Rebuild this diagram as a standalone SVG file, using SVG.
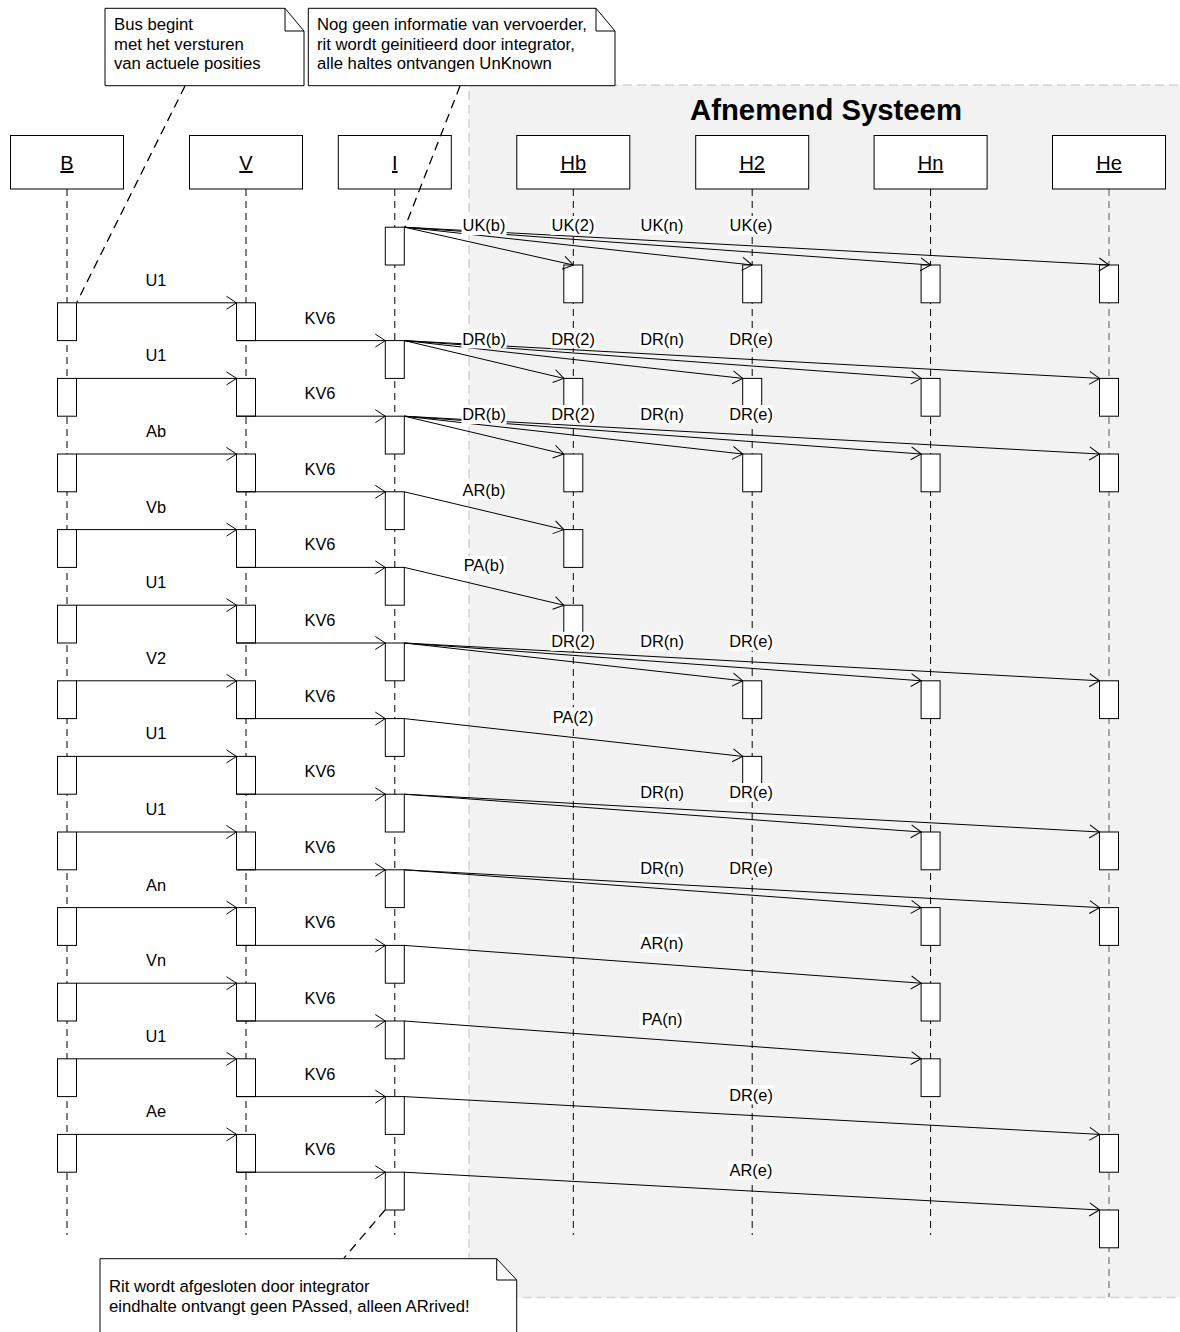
<svg xmlns="http://www.w3.org/2000/svg" width="1180" height="1332" viewBox="0 0 1180 1332">
<style>
text{font-family:"Liberation Sans",Arial,sans-serif;fill:#000}
.t{font-size:16.7px}
.m{font-size:16.4px;text-anchor:middle}
.h{font-size:20px;text-anchor:middle;text-decoration:underline}
.title{font-size:29.3px;font-weight:bold;text-anchor:middle}
.box{fill:#fff;stroke:#000;stroke-width:1}
.act{fill:#fff;stroke:#000;stroke-width:1}
.life{stroke:#000;stroke-width:1;stroke-dasharray:7,5;fill:none}
.msg{stroke:#000;stroke-width:1;fill:none;marker-end:url(#ah)}
.note{fill:#fff;stroke:#000;stroke-width:1}
.nl{stroke:#000;stroke-width:1.3;stroke-dasharray:9,6;fill:none}
.lbg{fill:#fff}
</style>
<defs>
<marker id="ah" markerUnits="userSpaceOnUse" markerWidth="12" markerHeight="15" viewBox="0 0 12 15" refX="11" refY="7.5" orient="auto">
<path d="M1,1 L11,7.5 L1,14" fill="none" stroke="#000" stroke-width="1"/>
</marker>
</defs>

<g id="region">
<rect x="469" y="85" width="720" height="1212.5" fill="#f2f2f2" stroke="#d4d4d4" stroke-width="1.5" stroke-dasharray="9,5"/>
<text class="title" x="826" y="120">Afnemend Systeem</text>
</g>

<g id="lifelines">
<line class="life" x1="67" y1="189" x2="67" y2="1235"/>
<line class="life" x1="246" y1="189" x2="246" y2="1235"/>
<line class="life" x1="394.8" y1="189" x2="394.8" y2="1235"/>
<line class="life" x1="573.3" y1="189" x2="573.3" y2="1235"/>
<line class="life" x1="752.2" y1="189" x2="752.2" y2="1235"/>
<line class="life" x1="930.6" y1="189" x2="930.6" y2="1235"/>
<line class="life" x1="1109" y1="189" x2="1109" y2="1297" style="stroke:#7a7a7a;stroke-width:1.3"/>
</g>

<g id="node-B"><rect class="box" x="10.5" y="135.5" width="113" height="53.5"/><text class="h" x="67" y="170">B</text></g>
<g id="node-V"><rect class="box" x="189.5" y="135.5" width="113" height="53.5"/><text class="h" x="246" y="170">V</text></g>
<g id="node-I"><rect class="box" x="338.3" y="135.5" width="113" height="53.5"/><text class="h" x="394.8" y="170">I</text></g>
<g id="node-Hb"><rect class="box" x="516.8" y="135.5" width="113" height="53.5"/><text class="h" x="573.3" y="170">Hb</text></g>
<g id="node-H2"><rect class="box" x="695.7" y="135.5" width="113" height="53.5"/><text class="h" x="752.2" y="170">H2</text></g>
<g id="node-Hn"><rect class="box" x="874.1" y="135.5" width="113" height="53.5"/><text class="h" x="930.6" y="170">Hn</text></g>
<g id="node-He"><rect class="box" x="1052.5" y="135.5" width="113" height="53.5"/><text class="h" x="1109" y="170">He</text></g>

<g id="activations">
<rect class="act" x="57.5" y="302.8" width="19" height="37.8"/>
<rect class="act" x="57.5" y="378.4" width="19" height="37.8"/>
<rect class="act" x="57.5" y="454.0" width="19" height="37.8"/>
<rect class="act" x="57.5" y="529.6" width="19" height="37.8"/>
<rect class="act" x="57.5" y="605.2" width="19" height="37.8"/>
<rect class="act" x="57.5" y="680.8" width="19" height="37.8"/>
<rect class="act" x="57.5" y="756.4" width="19" height="37.8"/>
<rect class="act" x="57.5" y="832.0" width="19" height="37.8"/>
<rect class="act" x="57.5" y="907.6" width="19" height="37.8"/>
<rect class="act" x="57.5" y="983.2" width="19" height="37.8"/>
<rect class="act" x="57.5" y="1058.8" width="19" height="37.8"/>
<rect class="act" x="57.5" y="1134.4" width="19" height="37.8"/>
<rect class="act" x="236.5" y="302.8" width="19" height="37.8"/>
<rect class="act" x="236.5" y="378.4" width="19" height="37.8"/>
<rect class="act" x="236.5" y="454.0" width="19" height="37.8"/>
<rect class="act" x="236.5" y="529.6" width="19" height="37.8"/>
<rect class="act" x="236.5" y="605.2" width="19" height="37.8"/>
<rect class="act" x="236.5" y="680.8" width="19" height="37.8"/>
<rect class="act" x="236.5" y="756.4" width="19" height="37.8"/>
<rect class="act" x="236.5" y="832.0" width="19" height="37.8"/>
<rect class="act" x="236.5" y="907.6" width="19" height="37.8"/>
<rect class="act" x="236.5" y="983.2" width="19" height="37.8"/>
<rect class="act" x="236.5" y="1058.8" width="19" height="37.8"/>
<rect class="act" x="236.5" y="1134.4" width="19" height="37.8"/>
<rect class="act" x="385.3" y="227.2" width="19" height="37.8"/>
<rect class="act" x="385.3" y="340.6" width="19" height="37.8"/>
<rect class="act" x="385.3" y="416.2" width="19" height="37.8"/>
<rect class="act" x="385.3" y="491.8" width="19" height="37.8"/>
<rect class="act" x="385.3" y="567.4" width="19" height="37.8"/>
<rect class="act" x="385.3" y="643.0" width="19" height="37.8"/>
<rect class="act" x="385.3" y="718.6" width="19" height="37.8"/>
<rect class="act" x="385.3" y="794.2" width="19" height="37.8"/>
<rect class="act" x="385.3" y="869.8" width="19" height="37.8"/>
<rect class="act" x="385.3" y="945.4" width="19" height="37.8"/>
<rect class="act" x="385.3" y="1021.0" width="19" height="37.8"/>
<rect class="act" x="385.3" y="1096.6" width="19" height="37.8"/>
<rect class="act" x="385.3" y="1172.2" width="19" height="37.8"/>
<rect class="act" x="563.8" y="265.0" width="19" height="37.8"/>
<rect class="act" x="563.8" y="378.4" width="19" height="37.8"/>
<rect class="act" x="563.8" y="454.0" width="19" height="37.8"/>
<rect class="act" x="563.8" y="529.6" width="19" height="37.8"/>
<rect class="act" x="563.8" y="605.2" width="19" height="37.8"/>
<rect class="act" x="742.7" y="265.0" width="19" height="37.8"/>
<rect class="act" x="742.7" y="378.4" width="19" height="37.8"/>
<rect class="act" x="742.7" y="454.0" width="19" height="37.8"/>
<rect class="act" x="742.7" y="680.8" width="19" height="37.8"/>
<rect class="act" x="742.7" y="756.4" width="19" height="37.8"/>
<rect class="act" x="921.1" y="265.0" width="19" height="37.8"/>
<rect class="act" x="921.1" y="378.4" width="19" height="37.8"/>
<rect class="act" x="921.1" y="454.0" width="19" height="37.8"/>
<rect class="act" x="921.1" y="680.8" width="19" height="37.8"/>
<rect class="act" x="921.1" y="832.0" width="19" height="37.8"/>
<rect class="act" x="921.1" y="907.6" width="19" height="37.8"/>
<rect class="act" x="921.1" y="983.2" width="19" height="37.8"/>
<rect class="act" x="921.1" y="1058.8" width="19" height="37.8"/>
<rect class="act" x="1099.5" y="265.0" width="19" height="37.8"/>
<rect class="act" x="1099.5" y="378.4" width="19" height="37.8"/>
<rect class="act" x="1099.5" y="454.0" width="19" height="37.8"/>
<rect class="act" x="1099.5" y="680.8" width="19" height="37.8"/>
<rect class="act" x="1099.5" y="832.0" width="19" height="37.8"/>
<rect class="act" x="1099.5" y="907.6" width="19" height="37.8"/>
<rect class="act" x="1099.5" y="1134.4" width="19" height="37.8"/>
<rect class="act" x="1099.5" y="1210.0" width="19" height="37.8"/>
</g>

<g id="connectors">
<line class="msg" x1="76.5" y1="302.8" x2="236.5" y2="302.8"/>
<line class="msg" x1="76.5" y1="378.4" x2="236.5" y2="378.4"/>
<line class="msg" x1="76.5" y1="454.0" x2="236.5" y2="454.0"/>
<line class="msg" x1="76.5" y1="529.6" x2="236.5" y2="529.6"/>
<line class="msg" x1="76.5" y1="605.2" x2="236.5" y2="605.2"/>
<line class="msg" x1="76.5" y1="680.8" x2="236.5" y2="680.8"/>
<line class="msg" x1="76.5" y1="756.4" x2="236.5" y2="756.4"/>
<line class="msg" x1="76.5" y1="832.0" x2="236.5" y2="832.0"/>
<line class="msg" x1="76.5" y1="907.6" x2="236.5" y2="907.6"/>
<line class="msg" x1="76.5" y1="983.2" x2="236.5" y2="983.2"/>
<line class="msg" x1="76.5" y1="1058.8" x2="236.5" y2="1058.8"/>
<line class="msg" x1="76.5" y1="1134.4" x2="236.5" y2="1134.4"/>
<line class="msg" x1="236.5" y1="340.6" x2="385.3" y2="340.6"/>
<line class="msg" x1="236.5" y1="416.2" x2="385.3" y2="416.2"/>
<line class="msg" x1="236.5" y1="491.8" x2="385.3" y2="491.8"/>
<line class="msg" x1="236.5" y1="567.4" x2="385.3" y2="567.4"/>
<line class="msg" x1="236.5" y1="643.0" x2="385.3" y2="643.0"/>
<line class="msg" x1="236.5" y1="718.6" x2="385.3" y2="718.6"/>
<line class="msg" x1="236.5" y1="794.2" x2="385.3" y2="794.2"/>
<line class="msg" x1="236.5" y1="869.8" x2="385.3" y2="869.8"/>
<line class="msg" x1="236.5" y1="945.4" x2="385.3" y2="945.4"/>
<line class="msg" x1="236.5" y1="1021.0" x2="385.3" y2="1021.0"/>
<line class="msg" x1="236.5" y1="1096.6" x2="385.3" y2="1096.6"/>
<line class="msg" x1="236.5" y1="1172.2" x2="385.3" y2="1172.2"/>
<line class="msg" x1="404.3" y1="227.2" x2="573.3" y2="265.0"/>
<line class="msg" x1="404.3" y1="227.2" x2="752.2" y2="265.0"/>
<line class="msg" x1="404.3" y1="227.2" x2="930.6" y2="265.0"/>
<line class="msg" x1="404.3" y1="227.2" x2="1109" y2="265.0"/>
<line class="msg" x1="404.3" y1="340.6" x2="563.8" y2="378.4"/>
<line class="msg" x1="404.3" y1="340.6" x2="742.7" y2="378.4"/>
<line class="msg" x1="404.3" y1="340.6" x2="921.1" y2="378.4"/>
<line class="msg" x1="404.3" y1="340.6" x2="1099.5" y2="378.4"/>
<line class="msg" x1="404.3" y1="416.2" x2="563.8" y2="454.0"/>
<line class="msg" x1="404.3" y1="416.2" x2="742.7" y2="454.0"/>
<line class="msg" x1="404.3" y1="416.2" x2="921.1" y2="454.0"/>
<line class="msg" x1="404.3" y1="416.2" x2="1099.5" y2="454.0"/>
<line class="msg" x1="404.3" y1="491.8" x2="563.8" y2="529.6"/>
<line class="msg" x1="404.3" y1="567.4" x2="563.8" y2="605.2"/>
<line class="msg" x1="404.3" y1="643.0" x2="742.7" y2="680.8"/>
<line class="msg" x1="404.3" y1="643.0" x2="921.1" y2="680.8"/>
<line class="msg" x1="404.3" y1="643.0" x2="1099.5" y2="680.8"/>
<line class="msg" x1="404.3" y1="718.6" x2="742.7" y2="756.4"/>
<line class="msg" x1="404.3" y1="794.2" x2="921.1" y2="832.0"/>
<line class="msg" x1="404.3" y1="794.2" x2="1099.5" y2="832.0"/>
<line class="msg" x1="404.3" y1="869.8" x2="921.1" y2="907.6"/>
<line class="msg" x1="404.3" y1="869.8" x2="1099.5" y2="907.6"/>
<line class="msg" x1="404.3" y1="945.4" x2="921.1" y2="983.2"/>
<line class="msg" x1="404.3" y1="1021.0" x2="921.1" y2="1058.8"/>
<line class="msg" x1="404.3" y1="1096.6" x2="1099.5" y2="1134.4"/>
<line class="msg" x1="404.3" y1="1172.2" x2="1099.5" y2="1210.0"/>
<line class="nl" x1="185" y1="86" x2="77" y2="302"/>
<line class="nl" x1="460" y1="86" x2="405" y2="227"/>
<line class="nl" x1="385" y1="1210" x2="344" y2="1258"/>
</g>

<g id="labels">
<text class="m" x="156" y="285.8">U1</text>
<text class="m" x="156" y="361.4">U1</text>
<text class="m" x="156" y="437.0">Ab</text>
<text class="m" x="156" y="512.6">Vb</text>
<text class="m" x="156" y="588.2">U1</text>
<text class="m" x="156" y="663.8">V2</text>
<text class="m" x="156" y="739.4">U1</text>
<text class="m" x="156" y="815.0">U1</text>
<text class="m" x="156" y="890.6">An</text>
<text class="m" x="156" y="966.2">Vn</text>
<text class="m" x="156" y="1041.8">U1</text>
<text class="m" x="156" y="1117.4">Ae</text>
<text class="m" x="320" y="323.6">KV6</text>
<text class="m" x="320" y="399.2">KV6</text>
<text class="m" x="320" y="474.8">KV6</text>
<text class="m" x="320" y="550.4">KV6</text>
<text class="m" x="320" y="626.0">KV6</text>
<text class="m" x="320" y="701.6">KV6</text>
<text class="m" x="320" y="777.2">KV6</text>
<text class="m" x="320" y="852.8">KV6</text>
<text class="m" x="320" y="928.4">KV6</text>
<text class="m" x="320" y="1004.0">KV6</text>
<text class="m" x="320" y="1079.6">KV6</text>
<text class="m" x="320" y="1155.2">KV6</text>
<rect class="lbg" x="461.5" y="216" width="45" height="19"/><text class="m" x="484" y="231.2">UK(b)</text>
<rect class="lbg" x="550.5" y="216" width="45" height="19"/><text class="m" x="573" y="231.2">UK(2)</text>
<rect class="lbg" x="639.5" y="216" width="45" height="19"/><text class="m" x="662" y="231.2">UK(n)</text>
<rect class="lbg" x="728.5" y="216" width="45" height="19"/><text class="m" x="751" y="231.2">UK(e)</text>
<rect class="lbg" x="461.5" y="329.4" width="45" height="19"/><text class="m" x="484" y="344.6">DR(b)</text>
<rect class="lbg" x="550.5" y="329.4" width="45" height="19"/><text class="m" x="573" y="344.6">DR(2)</text>
<rect class="lbg" x="639.5" y="329.4" width="45" height="19"/><text class="m" x="662" y="344.6">DR(n)</text>
<rect class="lbg" x="728.5" y="329.4" width="45" height="19"/><text class="m" x="751" y="344.6">DR(e)</text>
<rect class="lbg" x="461.5" y="405" width="45" height="19"/><text class="m" x="484" y="420.2">DR(b)</text>
<rect class="lbg" x="550.5" y="405" width="45" height="19"/><text class="m" x="573" y="420.2">DR(2)</text>
<rect class="lbg" x="639.5" y="405" width="45" height="19"/><text class="m" x="662" y="420.2">DR(n)</text>
<rect class="lbg" x="728.5" y="405" width="45" height="19"/><text class="m" x="751" y="420.2">DR(e)</text>
<rect class="lbg" x="461.5" y="480.6" width="45" height="19"/><text class="m" x="484" y="495.8">AR(b)</text>
<rect class="lbg" x="461.5" y="556.2" width="45" height="19"/><text class="m" x="484" y="571.4">PA(b)</text>
<rect class="lbg" x="550.5" y="631.8" width="45" height="19"/><text class="m" x="573" y="647.0">DR(2)</text>
<rect class="lbg" x="639.5" y="631.8" width="45" height="19"/><text class="m" x="662" y="647.0">DR(n)</text>
<rect class="lbg" x="728.5" y="631.8" width="45" height="19"/><text class="m" x="751" y="647.0">DR(e)</text>
<rect class="lbg" x="550.5" y="707.4" width="45" height="19"/><text class="m" x="573" y="722.6">PA(2)</text>
<rect class="lbg" x="639.5" y="783" width="45" height="19"/><text class="m" x="662" y="798.2">DR(n)</text>
<rect class="lbg" x="728.5" y="783" width="45" height="19"/><text class="m" x="751" y="798.2">DR(e)</text>
<rect class="lbg" x="639.5" y="858.6" width="45" height="19"/><text class="m" x="662" y="873.8">DR(n)</text>
<rect class="lbg" x="728.5" y="858.6" width="45" height="19"/><text class="m" x="751" y="873.8">DR(e)</text>
<rect class="lbg" x="639.5" y="934.2" width="45" height="19"/><text class="m" x="662" y="949.4">AR(n)</text>
<rect class="lbg" x="639.5" y="1009.8" width="45" height="19"/><text class="m" x="662" y="1025.0">PA(n)</text>
<rect class="lbg" x="728.5" y="1085.4" width="45" height="19"/><text class="m" x="751" y="1100.6">DR(e)</text>
<rect class="lbg" x="728.5" y="1161" width="45" height="19"/><text class="m" x="751" y="1176.2">AR(e)</text>
</g>

<g id="note-1">
<path class="note" d="M105,8.3 H285 L304,31 V85.7 H105 Z"/>
<path d="M285,8.3 V31 H304" fill="none" stroke="#000" stroke-width="1"/>
<text class="t" x="114" y="30">Bus begint</text>
<text class="t" x="114" y="49.5">met het versturen</text>
<text class="t" x="114" y="69">van actuele posities</text>
</g>
<g id="note-2">
<path class="note" d="M308.3,8.3 H596 L615,31 V85.7 H308.3 Z"/>
<path d="M596,8.3 V31 H615" fill="none" stroke="#000" stroke-width="1"/>
<text class="t" x="317" y="30">Nog geen informatie van vervoerder,</text>
<text class="t" x="317" y="49.5">rit wordt geinitieerd door integrator,</text>
<text class="t" x="317" y="69">alle haltes ontvangen UnKnown</text>
</g>
<g id="note-3">
<path class="note" d="M100,1258.7 H496.7 L516.7,1280 V1345 H100 Z"/>
<path d="M496.7,1258.7 V1280 H516.7" fill="none" stroke="#000" stroke-width="1"/>
<text class="t" x="109" y="1291.7">Rit wordt afgesloten door integrator</text>
<text class="t" x="109" y="1311.7">eindhalte ontvangt geen PAssed, alleen ARrived!</text>
</g>
</svg>
